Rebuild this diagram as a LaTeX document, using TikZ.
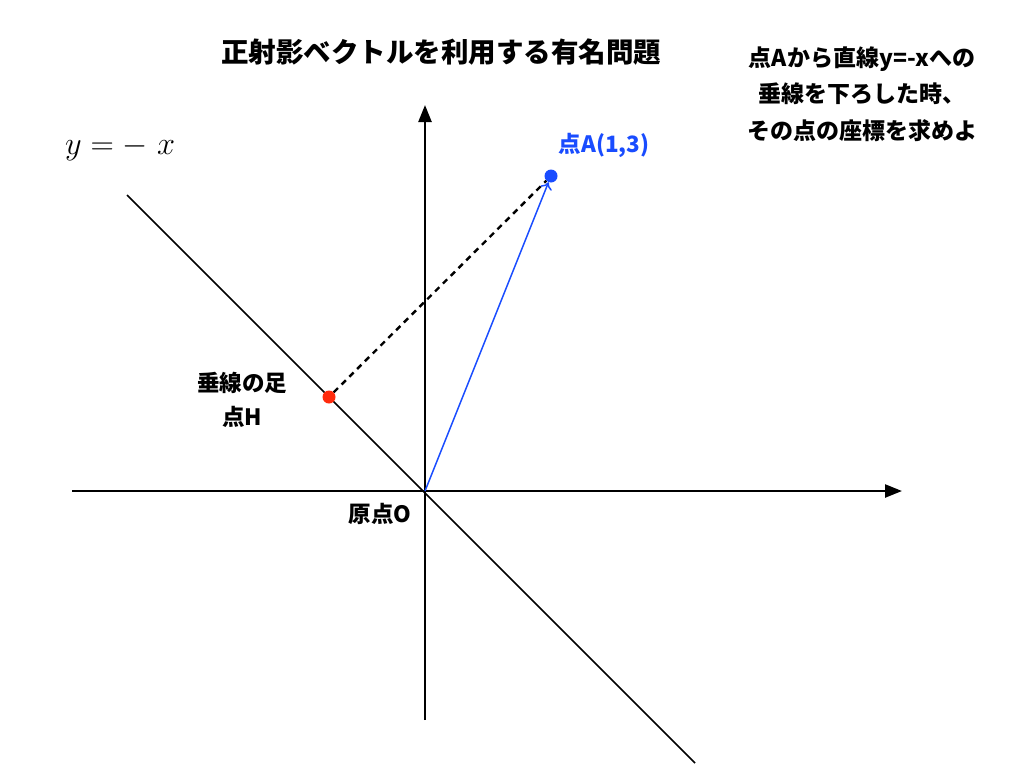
\documentclass[tikz,border=0pt]{standalone}
\usepackage{fontspec}
\usetikzlibrary{arrows.meta}
\newfontfamily\jpfont{Noto Sans CJK JP}
\definecolor{ptblue}{rgb}{0.10, 0.30, 1.00}
\definecolor{ptred}{rgb}{1.00, 0.17, 0.05}

\begin{document}
\begin{tikzpicture}[x=1pt,y=-1pt,
    axis/.style={line width=2.4pt,-{Triangle[length=17pt,width=13pt]}},
    jlabel/.style={font=\jpfont\bfseries\fontsize{22.5}{35}\selectfont,inner sep=0pt,align=center},
    dot/.style={circle,inner sep=0pt,minimum size=13pt}]
    \useasboundingbox (0,0) rectangle (1024,768);
    % axes and the line y=-x
    \coordinate (O) at (425,491);
    \coordinate (xleft) at (72,491);
    \coordinate (xright) at (902,491);
    \coordinate (ybottom) at (425,720);
    \coordinate (ytop) at (425,105);
    \coordinate (lineup) at (127,195);
    \coordinate (linedown) at (695,763);
    \draw[axis] (xleft) -- (xright);
    \draw[axis] (ybottom) -- (ytop);
    \draw[line width=1.5pt] (lineup) -- (linedown);
    % points A and H
    \node[dot,fill=ptblue] (A) at (551,176) {};
    \node[dot,fill=ptred] (H) at (329,397) {};
    \draw[line width=2.4pt,dash pattern=on 6pt off 5pt] (H) -- (A);
    \draw[ptblue,line width=1.5pt,-{To[length=7pt,width=12pt]}] (O) -- (A);
    % texts
    \node[jlabel,font=\jpfont\bfseries\fontsize{27.5}{32}\selectfont] (title) at (441,52) {正射影ベクトルを利用する有名問題};
    \node[jlabel,font=\jpfont\bfseries\fontsize{23}{36.5}\selectfont] (problem) at (862,94) {点Aから直線y=-xへの\\垂線を下ろした時、\\その点の座標を求めよ};
    \node[jlabel,text=ptblue] (Alabel) at (604,145) {点A(1,3)};
    \node[jlabel,font=\jpfont\bfseries\fontsize{22.5}{34}\selectfont] (Hlabel) at (242,400) {垂線の足\\点H};
    \node[jlabel] (Olabel) at (380,514) {原点O};
    \node[inner sep=0pt,scale=1.3,font=\fontsize{24.88}{30}\selectfont] (linelabel) at (120,148) {$y = -\;x$};
\end{tikzpicture}
\end{document}
